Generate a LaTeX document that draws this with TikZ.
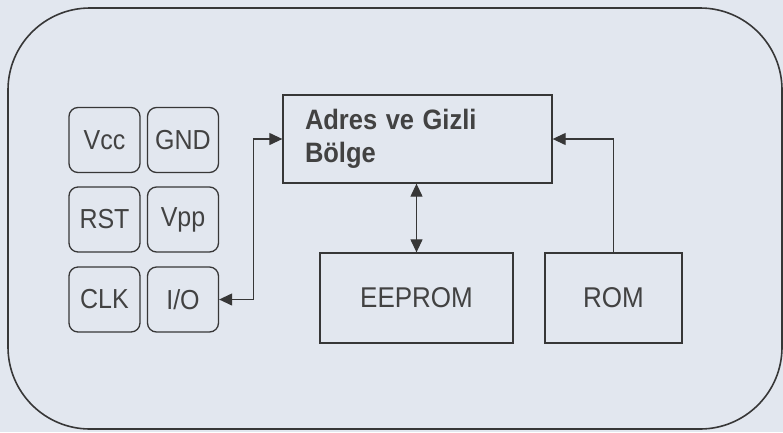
\documentclass[tikz,border=0pt]{standalone}
\usepackage{fontspec}
\setmainfont{Liberation Sans}
\usetikzlibrary{arrows.meta}
\definecolor{bg}{RGB}{226,231,239}
\definecolor{ink}{RGB}{55,55,55}
\definecolor{txt}{RGB}{66,66,66}
\newcommand{\tallt}[1]{\scalebox{1}[1.1]{#1}}
\tikzset{
  pin/.style={draw=ink, line width=1.3pt, rounded corners=9pt, minimum width=71pt, minimum height=65pt, inner sep=0pt, text=txt, font=\fontsize{25}{30}\selectfont},
  blk/.style={draw=ink, line width=1.3pt, rectangle, inner sep=0pt, text=txt, font=\fontsize{26}{31}\selectfont},
  conn/.style={draw=ink, line width=1.2pt},
  tip/.tip={Triangle[length=13pt,width=12pt]}
}
\begin{document}
\begin{tikzpicture}[x=1pt,y=-1pt]
\useasboundingbox (0,0) rectangle (783,432);
\fill[bg] (0,0) rectangle (783,432);
\draw[ink, line width=1.6pt, rounded corners=82pt] (8,8) rectangle (782,429);
% pins
\node[pin] (vcc) at (104.5,140) {\tallt{Vcc}};
\node[pin] (gnd) at (183,140) {\tallt{GND}};
\node[pin] (rst) at (104.5,219.5) {\tallt{RST}};
\node[pin] (vpp) at (183,219.5) {\tallt{Vpp}};
\node[pin] (clk) at (104.5,299.5) {\tallt{CLK}};
\node[pin] (io) at (183,299.5) {\tallt{I/O}};
% blocks
\node[blk, minimum width=269pt, minimum height=88pt, text width=225pt, align=left,
      font=\fontsize{25.5}{33}\selectfont\bfseries] (adres) at (417.5,139) {\tallt{Adres ve Gizli}\\\tallt{Bölge}};
\node[blk, minimum width=193pt, minimum height=90pt] (eeprom) at (416.5,298) {\tallt{EEPROM}};
\node[blk, minimum width=137pt, minimum height=90pt] (rom) at (613.5,298) {\tallt{ROM}};
% connectors
\draw[conn, {tip}-{tip}] (io.east) -- ++(34,0) |- (adres.west);
\draw[conn, {tip}-{tip}] (eeprom.north) -- (eeprom.north |- adres.south);
\draw[conn, -{tip}] (rom.north) |- (adres.east);
\end{tikzpicture}
\end{document}
